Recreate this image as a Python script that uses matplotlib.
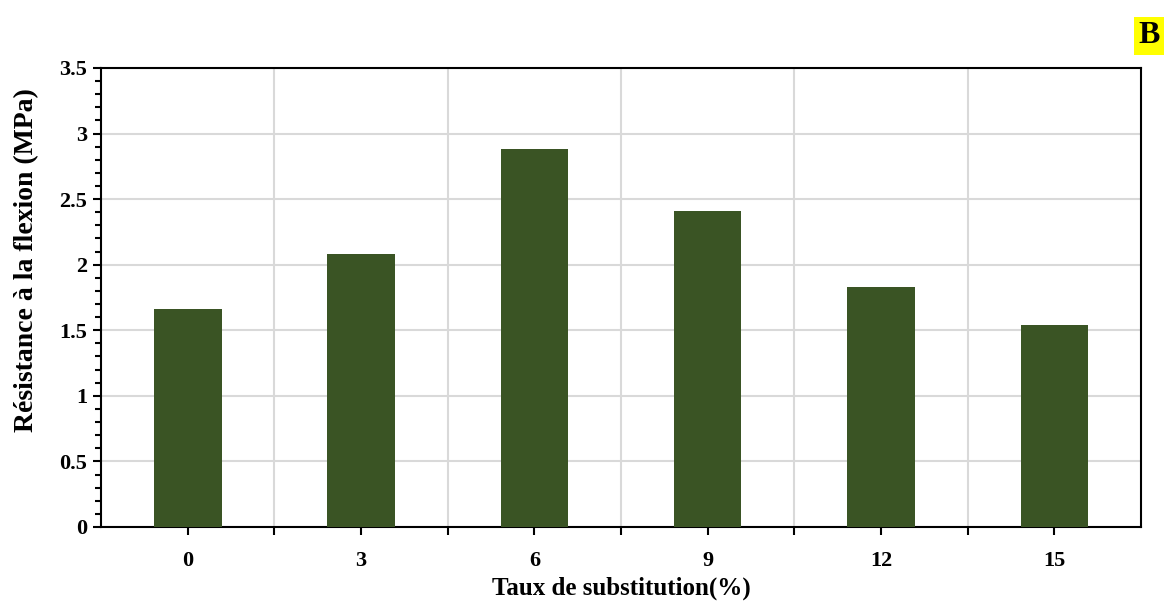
import matplotlib.pyplot as plt
import numpy as np

# Data
taux = ['0', '3', '6', '9', '12', '15']
resistance = [1.66, 2.08, 2.88, 2.41, 1.83, 1.54]

plt.rcParams['font.family'] = 'Liberation Serif'
plt.rcParams['font.weight'] = 'bold'

fig = plt.figure(figsize=(11.67, 6.06), dpi=100)
ax = fig.add_axes([0.0866, 0.1304, 0.8911, 0.7574])

x = np.arange(len(taux))
ax.bar(x, resistance, width=0.39, color='#3a5424', zorder=3)

ax.set_xlim(-0.5, len(taux) - 0.5)
ax.set_ylim(0, 3.5)

# major ticks at categories, minor ticks at category boundaries
ax.set_xticks(x)
ax.set_xticklabels(taux, fontsize=16, fontweight='bold')
ax.set_xticks(np.arange(0.5, len(taux) - 0.5, 1), minor=True)
ax.set_yticks(np.arange(0, 3.51, 0.5))
ax.set_yticklabels(['0', '0.5', '1', '1.5', '2', '2.5', '3', '3.5'], fontsize=16, fontweight='bold')
ax.set_yticks(np.arange(0, 3.51, 0.1), minor=True)

ax.tick_params(axis='both', which='both', direction='out', width=1.5, colors='black')
ax.tick_params(axis='x', which='major', length=6, pad=11)
ax.tick_params(axis='x', which='minor', length=6)
ax.tick_params(axis='y', which='major', length=6, pad=4)
ax.tick_params(axis='y', which='minor', length=4)

ax.grid(True, axis='y', which='major', color='#d9d9d9', linewidth=1.5, zorder=0)
ax.grid(True, axis='x', which='minor', color='#d9d9d9', linewidth=1.5, zorder=0)

for s in ax.spines.values():
    s.set_linewidth(1.5)
    s.set_color('black')

ax.set_xlabel('Taux de substitution(%)', fontsize=18, fontweight='bold')
ax.set_ylabel('Résistance à la flexion (MPa)', fontsize=20, fontweight='bold')
ax.xaxis.set_label_coords(0.5, -0.108)
ax.yaxis.set_label_coords(-0.060, 0.582)

fig.text(0.9846, 0.9406, 'B', fontsize=23, fontweight='bold', ha='center', va='center',
         bbox=dict(facecolor='#ffff00', edgecolor='none', pad=3))

plt.savefig('out.png', dpi=100)
plt.close()
